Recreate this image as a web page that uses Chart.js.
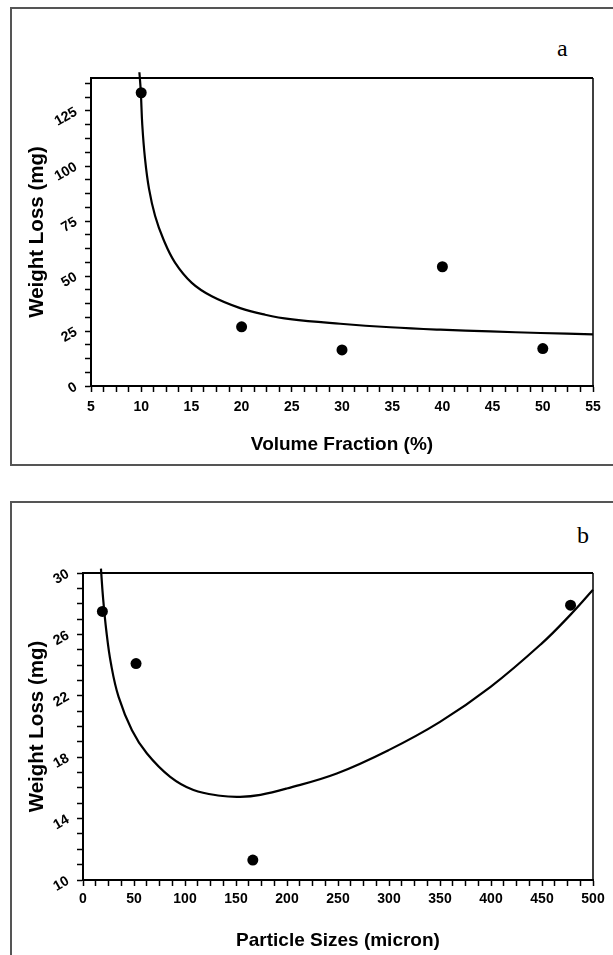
<!DOCTYPE html>
<html>
<head>
<meta charset="utf-8">
<script src="https://cdn.jsdelivr.net/npm/chart.js@4.4.1/dist/chart.umd.min.js"></script>
<style>
  body { margin: 0; background: #fff; width: 613px; height: 955px; overflow: hidden; position: relative; }
  .box { position: absolute; border: 2px solid #555; box-sizing: border-box; }
  canvas { position: absolute; left: 0; }
  .tag { position: absolute; font-family: 'Liberation Serif', 'Times New Roman', serif; font-size: 24px; line-height: 24px; color: #000; }
</style>
</head>
<body>
<div class="box" style="left:10px;top:7px;width:700px;height:459px"></div>
<div class="box" style="left:10px;top:501px;width:700px;height:600px"></div>
<div class="tag" style="left:557px;top:36px">a</div>
<div class="tag" style="left:577px;top:523px">b</div>
<canvas id="chartA" width="613" height="470" style="top:0"></canvas>
<canvas id="chartB" width="613" height="465" style="top:490px"></canvas>
<script>
// panel a - weight loss against volume fraction
const fractionPct = [10, 20, 30, 40, 50];
const fractionLoss = [133.3, 26.9, 16.4, 54.2, 17.0];
const fractionFitX = [9.82, 9.96, 10.11, 10.38, 10.78, 11.38, 12.21, 13.37, 15.04, 17.03, 19.86, 22.35, 24.84, 29.83, 34.81, 39.8, 44.78, 49.77, 55.0];
const fractionFitY = [142.6, 133.8, 118.5, 103.3, 89.6, 77.4, 66.7, 56.1, 46.9, 40.8, 35.4, 32.4, 30.4, 28.3, 26.7, 25.6, 24.8, 24.1, 23.5];
const fractionTicks = [5, 10, 15, 20, 25, 30, 35, 40, 45, 50, 55];
const fractionLossTicks = [0, 25, 50, 75, 100, 125];

// panel b - weight loss against particle size
const particleSize = [19, 52, 166.5, 478];
const particleLoss = [27.5, 24.1, 11.3, 27.9];
const particleFitX = [17.6, 19.6, 22.8, 27.4, 34.9, 48, 62.7, 85.5, 108.3, 134.5, 154, 174, 199.8, 248.8, 299.7, 350, 399.6, 449.6, 477.3, 500];
const particleFitY = [30.28, 28.43, 26.27, 24.1, 21.93, 19.76, 18.24, 16.72, 15.86, 15.49, 15.42, 15.55, 15.96, 16.94, 18.46, 20.3, 22.58, 25.4, 27.24, 28.91];
const particleTicks = [0, 50, 100, 150, 200, 250, 300, 350, 400, 450, 500];
const particleLossTicks = [10, 14, 18, 22, 26, 30];

const FONT = "'Liberation Sans', Arial, sans-serif";
const bold = (size) => ({ family: FONT, size: size, weight: 'bold', lineHeight: 1.2 });
const toPoints = (xs, ys) => xs.map((x, i) => ({ x: x, y: ys[i] }));

// top and right edges of the plot frame
const frame = {
  id: 'frame',
  beforeDatasetsDraw(chart) {
    const { ctx, chartArea: a } = chart;
    ctx.save();
    ctx.strokeStyle = '#000';
    ctx.lineWidth = 2;
    ctx.beginPath();
    ctx.moveTo(a.left, a.top);
    ctx.lineTo(a.right, a.top);
    ctx.stroke();
    ctx.lineWidth = 1.5;
    ctx.beginPath();
    ctx.moveTo(a.right, a.top);
    ctx.lineTo(a.right, a.bottom);
    ctx.stroke();
    ctx.restore();
  }
};

const axis = (o) => ({
  type: 'linear',
  min: o.min,
  max: o.max,
  ticks: {
    stepSize: o.step,
    includeBounds: false,
    autoSkip: false,
    minRotation: o.rot,
    maxRotation: o.rot,
    padding: o.pad,
    color: '#000',
    font: bold(14),
    callback: (v) => (o.labels.includes(v) ? String(v) : '')
  },
  grid: { drawOnChartArea: false, drawTicks: true, tickLength: 6, tickWidth: 1.5, tickColor: '#000' },
  border: { display: true, color: '#000', width: 2 },
  title: { display: true, text: o.title, color: '#000', font: bold(o.titleSize), padding: o.titlePad },
  afterFit: o.fit
});

const makeChart = (id, cfg) => new Chart(document.getElementById(id), {
  type: 'scatter',
  data: {
    datasets: [
      {
        data: toPoints(cfg.fitX, cfg.fitY),
        showLine: true,
        pointRadius: 0,
        borderColor: '#000',
        borderWidth: 2.2,
        tension: 0.4,
        clip: false
      },
      {
        data: toPoints(cfg.px, cfg.py),
        pointRadius: 5.5,
        backgroundColor: '#000',
        borderWidth: 0
      }
    ]
  },
  options: {
    responsive: false,
    animation: false,
    layout: { padding: cfg.padding },
    plugins: { legend: { display: false }, tooltip: { enabled: false } },
    scales: { x: cfg.x, y: cfg.y }
  },
  plugins: [frame]
});

makeChart('chartA', {
  fitX: fractionFitX, fitY: fractionFitY, px: fractionPct, py: fractionLoss,
  padding: { top: 78, right: 20, left: 0, bottom: 0 },
  x: axis({ min: 5, max: 55, step: 1.25, rot: 0, pad: 7, labels: fractionTicks,
    title: 'Volume Fraction (%)', titleSize: 19, titlePad: { top: 0, bottom: 14 }, fit: (s) => { s.height = 84; } }),
  y: axis({ min: 0, max: 140, step: 6.25, rot: 30, pad: 9, labels: fractionLossTicks,
    title: 'Weight Loss (mg)', titleSize: 20.5, titlePad: { top: 25, bottom: 0 }, fit: (s) => { s.width = 91; } })
});

makeChart('chartB', {
  fitX: particleFitX, fitY: particleFitY, px: particleSize, py: particleLoss,
  padding: { top: 83, right: 20, left: 0, bottom: 0 },
  x: axis({ min: 0, max: 500, step: 12.5, rot: 0, pad: 5, labels: particleTicks,
    title: 'Particle Sizes (micron)', titleSize: 19, titlePad: { top: 0, bottom: 3 }, fit: (s) => { s.height = 75; } }),
  y: axis({ min: 10, max: 30, step: 1, rot: 30, pad: 9, labels: particleLossTicks,
    title: 'Weight Loss (mg)', titleSize: 20.5, titlePad: { top: 25, bottom: 0 }, fit: (s) => { s.width = 83; } })
});
</script>
</body>
</html>
